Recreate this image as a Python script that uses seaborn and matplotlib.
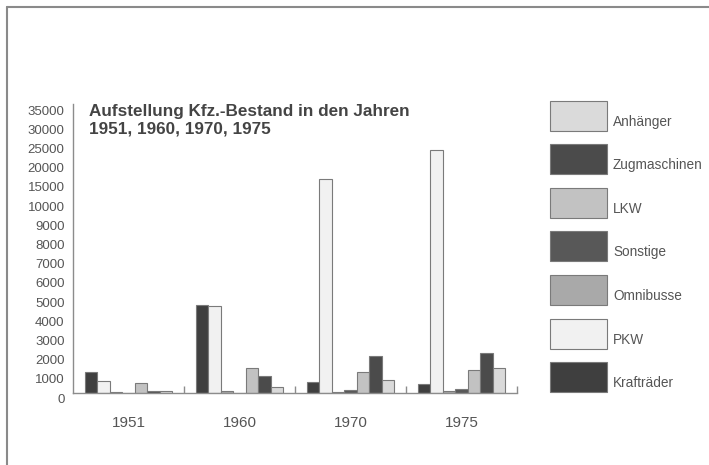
"""
Kfz-Bestand 1951-1975 as grouped bar chart with a broken y scale.
"""
import matplotlib

matplotlib.use("Agg")
import matplotlib.pyplot as plt
import matplotlib.patches as mpatches
import matplotlib.ticker as ticker
import numpy as np
import pandas as pd
import seaborn as sns
from matplotlib.transforms import ScaledTranslation

# Data
years = ["1951", "1960", "1970", "1975"]
kraftraeder = [1050, 4560, 560, 440]
pkw = [600, 4500, 15500, 23150]
omnibusse = [50, 100, 50, 90]
sonstige = [0, 0, 130, 200]
lkw = [500, 1290, 1050, 1170]
zugmaschinen = [60, 875, 1900, 2060]
anhaenger = [80, 300, 670, 1280]

# bar order inside each group, legend shows them the other way round
series_names = [
    "Krafträder", "PKW", "Omnibusse", "Sonstige", "LKW", "Zugmaschinen", "Anhänger"
]
series_values = [kraftraeder, pkw, omnibusse, sonstige, lkw, zugmaschinen, anhaenger]
series_colors = ["#3f3f3f", "#f1f1f1", "#a9a9a9", "#585858", "#c2c2c2", "#4b4b4b", "#dadada"]

y_ticks = [0, 1000, 2000, 3000, 4000, 5000, 6000, 7000, 8000, 9000, 10000,
           15000, 20000, 25000, 30000, 35000]

title = "Aufstellung Kfz.-Bestand in den Jahren\n1951, 1960, 1970, 1975"

TEXT = "#555555"
AXIS = "#8c8c8c"

rows = []
for name, values in zip(series_names, series_values):
    for year, v in zip(years, values):
        rows.append({"Jahr": year, "Art": name, "Bestand": v})
df = pd.DataFrame(rows)


# 0..10000 in steps of 1000, above that 5000 per step
def forward(v):
    v = np.asarray(v, dtype=float)
    return np.where(v <= 10000, v / 1000.0, 10 + (v - 10000) / 5000.0)


def inverse(p):
    p = np.asarray(p, dtype=float)
    return np.where(p <= 10, p * 1000.0, 10000 + (p - 10) * 5000.0)


sns.set_theme(style="white")
plt.rcParams["font.family"] = ["Liberation Sans", "DejaVu Sans"]

fig = plt.figure(figsize=(7.09, 4.65), dpi=100)
ax = fig.add_axes([73 / 709, 72.5 / 465, 444 / 709, 288 / 465])

sns.barplot(
    data=df,
    x="Jahr",
    y="Bestand",
    hue="Art",
    hue_order=series_names,
    palette=dict(zip(series_names, series_colors)),
    width=0.79,
    saturation=1,
    errorbar=None,
    edgecolor="#7a7a7a",
    linewidth=0.8,
    legend=False,
    ax=ax,
)

ax.set_yscale("function", functions=(forward, inverse))
ax.set_ylim(0, 35000)
ax.set_xlim(-0.5, 3.5)
ax.set_yticks(y_ticks)
ax.set_yticklabels([str(t) for t in y_ticks])
ax.yaxis.set_minor_locator(ticker.NullLocator())
ax.set_xlabel("")
ax.set_ylabel("")

# small tick marks between the year groups
ax.xaxis.set_minor_locator(ticker.FixedLocator([0.5, 1.5, 2.5, 3.5]))
ax.tick_params(axis="x", which="major", length=0, pad=17, labelsize=11, labelcolor=TEXT)
ax.tick_params(axis="x", which="minor", direction="in", length=5, width=1, color=AXIS,
               bottom=True)
ax.tick_params(axis="y", length=0, pad=6, labelsize=9.5, labelcolor=TEXT)

# the scan prints the y labels a bit below their values
for t in ax.yaxis.get_major_ticks():
    t.label1.set_transform(
        t.label1.get_transform() + ScaledTranslation(0, -4 / 72, fig.dpi_scale_trans)
    )

for side in ["top", "right"]:
    ax.spines[side].set_visible(False)
for side in ["left", "bottom"]:
    ax.spines[side].set_color(AXIS)
    ax.spines[side].set_linewidth(1)

# overlay in pixel coordinates for frame, title and legend
over = fig.add_axes([0, 0, 1, 1])
over.set_xlim(0, 709)
over.set_ylim(465, 0)
over.axis("off")

over.plot([7, 7], [7, 465], color="#8a8a8a", lw=1.5)
over.plot([7, 709], [7, 7], color="#8a8a8a", lw=1.5)

over.text(89, 104, title, ha="left", va="top", fontsize=12.3, fontweight="bold",
          color="#444444", linespacing=1.2)

legend_top = 100.5
for i, (name, color) in enumerate(zip(series_names[::-1], series_colors[::-1])):
    y0 = legend_top + i * 43.6
    over.add_patch(mpatches.Rectangle((550, y0), 57, 30, facecolor=color,
                                      edgecolor="#7a7a7a", lw=0.8))
    over.text(613, y0 + 21, name, ha="left", va="center", fontsize=9.8, color=TEXT)

fig.savefig("out.png", dpi=100)
